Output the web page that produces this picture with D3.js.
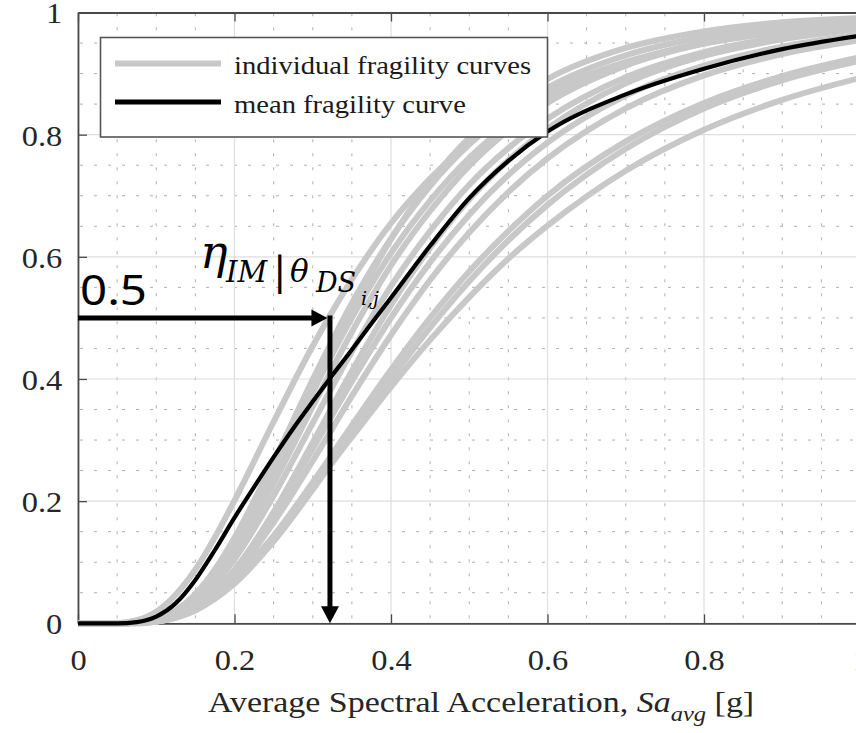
<!DOCTYPE html>
<html>
<head>
<meta charset="utf-8">
<script src="https://cdn.jsdelivr.net/npm/d3@7"></script>
<style>
body { margin: 0; background: #fff; }
svg { display: block; }
text { white-space: pre; }
</style>
</head>
<body>
<svg width="856" height="733"></svg>
<script>
// ticks
var xTicks = [0, 0.2, 0.4, 0.6, 0.8, 1];
var yTicks = [0, 0.2, 0.4, 0.6, 0.8, 1];
var xTickLabels = ["0", "0.2", "0.4", "0.6", "0.8", "1"];
var yTickLabels = ["0", "0.2", "0.4", "0.6", "0.8", "1"];

// x positions where the individual curves were read
var gridX = [0, 0.05, 0.075, 0.1, 0.125, 0.15, 0.175, 0.2, 0.25, 0.3, 0.35, 0.4, 0.45, 0.5, 0.55, 0.6, 0.7, 0.8, 0.9, 1.0];

// individual fragility curves (probability at gridX)
var individualCurves = [
	[0, 0, 0.005, 0.019, 0.047, 0.088, 0.141, 0.201, 0.330, 0.454, 0.563, 0.655, 0.728, 0.787, 0.833, 0.869, 0.919, 0.949, 0.968, 0.979],
	[0, 0, 0.000, 0.003, 0.012, 0.032, 0.066, 0.113, 0.237, 0.378, 0.512, 0.629, 0.722, 0.795, 0.850, 0.891, 0.942, 0.969, 0.984, 0.991],
	[0, 0, 0.001, 0.006, 0.021, 0.048, 0.088, 0.140, 0.265, 0.399, 0.524, 0.630, 0.716, 0.784, 0.837, 0.877, 0.930, 0.960, 0.977, 0.986],
	[0, 0, 0.001, 0.006, 0.020, 0.045, 0.083, 0.132, 0.251, 0.379, 0.500, 0.606, 0.692, 0.762, 0.817, 0.860, 0.917, 0.951, 0.971, 0.982],
	[0, 0, 0.001, 0.005, 0.016, 0.037, 0.071, 0.116, 0.229, 0.355, 0.477, 0.586, 0.675, 0.749, 0.807, 0.852, 0.913, 0.949, 0.969, 0.982],
	[0, 0, 0.001, 0.004, 0.014, 0.034, 0.064, 0.105, 0.209, 0.328, 0.445, 0.552, 0.642, 0.718, 0.778, 0.826, 0.894, 0.935, 0.960, 0.975],
	[0, 0, 0.000, 0.003, 0.010, 0.026, 0.051, 0.087, 0.182, 0.296, 0.413, 0.521, 0.615, 0.694, 0.758, 0.810, 0.884, 0.929, 0.956, 0.973],
	[0, 0, 0.001, 0.003, 0.011, 0.027, 0.053, 0.087, 0.178, 0.286, 0.396, 0.500, 0.591, 0.669, 0.734, 0.787, 0.864, 0.913, 0.944, 0.964],
	[0, 0, 0.001, 0.003, 0.011, 0.025, 0.049, 0.080, 0.165, 0.266, 0.372, 0.472, 0.562, 0.640, 0.706, 0.761, 0.843, 0.897, 0.932, 0.955],
	[0, 0, 0.001, 0.003, 0.010, 0.023, 0.043, 0.070, 0.143, 0.231, 0.324, 0.415, 0.500, 0.576, 0.642, 0.700, 0.789, 0.852, 0.896, 0.927],
	[0, 0, 0.001, 0.003, 0.009, 0.021, 0.040, 0.065, 0.134, 0.219, 0.310, 0.400, 0.484, 0.560, 0.627, 0.685, 0.777, 0.843, 0.889, 0.921],
	[0, 0, 0.001, 0.005, 0.013, 0.027, 0.048, 0.075, 0.142, 0.222, 0.305, 0.387, 0.464, 0.534, 0.597, 0.651, 0.741, 0.808, 0.857, 0.893]
];

// mean fragility curve
var meanX = [0, 0.05, 0.075, 0.1, 0.125, 0.15, 0.175, 0.2, 0.225, 0.25, 0.275, 0.3, 0.325, 0.35, 0.375, 0.4, 0.45, 0.5, 0.55, 0.6, 0.7, 0.8, 0.9, 1.0];
var meanY = [0, 0, 0.002, 0.011, 0.033, 0.071, 0.120, 0.173, 0.223, 0.272, 0.319, 0.363, 0.406, 0.448, 0.491, 0.533, 0.618, 0.696, 0.757, 0.805, 0.866, 0.908, 0.940, 0.962];

// median marker
var medianIM = 0.322;
var medianP = 0.5;

var legendLabels = ["individual fragility curves", "mean fragility curve"];

var svg = d3.select("svg");
var x = d3.scaleLinear().domain([0, 1]).range([78, 860.5]);
var y = d3.scaleLinear().domain([0, 1]).range([623.3, 12.5]);

var serif = "'Liberation Serif', 'Times New Roman', serif";
var minorX = d3.range(0, 1.0001, 0.05).filter(d => Math.abs(d * 5 - Math.round(d * 5)) > 1e-6);
var minorY = minorX;

// grid
var grid = svg.append("g");
grid.selectAll(".mx").data(minorX).enter().append("line")
	.attr("x1", d => x(d)).attr("x2", d => x(d))
	.attr("y1", y(0)).attr("y2", y(1))
	.attr("stroke", "#b0b0b0").attr("stroke-width", 1)
	.attr("stroke-dasharray", "3,11").attr("stroke-dashoffset", -5);
grid.selectAll(".my").data(minorY).enter().append("line")
	.attr("x1", x(0)).attr("x2", x(1))
	.attr("y1", d => y(d)).attr("y2", d => y(d))
	.attr("stroke", "#b0b0b0").attr("stroke-width", 1)
	.attr("stroke-dasharray", "3,11").attr("stroke-dashoffset", -2);
grid.selectAll(".gx").data(xTicks).enter().append("line")
	.attr("x1", d => x(d)).attr("x2", d => x(d))
	.attr("y1", y(0)).attr("y2", y(1))
	.attr("stroke", "#dedede").attr("stroke-width", 1.2);
grid.selectAll(".gy").data(yTicks).enter().append("line")
	.attr("x1", x(0)).attr("x2", x(1))
	.attr("y1", d => y(d)).attr("y2", d => y(d))
	.attr("stroke", "#dedede").attr("stroke-width", 1.2);

// axes
var xAxis = svg.append("g").attr("transform", "translate(0," + y(0) + ")")
	.call(d3.axisBottom(x).tickValues(xTicks).tickFormat((d, i) => xTickLabels[i])
		.tickSize(-9).tickSizeOuter(0).tickPadding(26));
var xTop = svg.append("g").attr("transform", "translate(0," + y(1) + ")")
	.call(d3.axisTop(x).tickValues(xTicks).tickFormat("").tickSize(-9).tickSizeOuter(0));
var yAxis = svg.append("g").attr("transform", "translate(" + x(0) + ",0)")
	.call(d3.axisLeft(y).tickValues(yTicks).tickFormat((d, i) => yTickLabels[i])
		.tickSize(-9).tickSizeOuter(0).tickPadding(14));

[xAxis, xTop, yAxis].forEach(function (g) {
	g.select(".domain").attr("stroke", "#4a4a4a").attr("stroke-width", 1.8);
	g.selectAll(".tick line").attr("stroke", "#4a4a4a").attr("stroke-width", 1.3);
	g.selectAll(".tick text")
		.attr("font-family", serif)
		.attr("font-size", 29).attr("fill", "#262626")
		.attr("transform", "scale(1.12,1)");
});
yAxis.selectAll(".tick text").attr("dy", "0.36em");

// curves
var indivLine = d3.line()
	.x((d, i) => x(gridX[i]))
	.y(d => y(d))
	.curve(d3.curveMonotoneX);

svg.append("g").selectAll("path").data(individualCurves).enter().append("path")
	.attr("d", indivLine)
	.attr("fill", "none").attr("stroke", "#c8c8c8").attr("stroke-width", 6);

var meanLine = d3.line()
	.x(d => x(d[0]))
	.y(d => y(d[1]))
	.curve(d3.curveMonotoneX);

svg.append("path")
	.datum(meanX.map((d, i) => [d, meanY[i]]))
	.attr("d", meanLine)
	.attr("fill", "none").attr("stroke", "#000").attr("stroke-width", 4.2);

// median arrows
var ax = x(medianIM), ay = y(medianP), lw = 5;
svg.append("line")
	.attr("x1", x(0)).attr("x2", ax - lw / 2 - 14)
	.attr("y1", ay).attr("y2", ay)
	.attr("stroke", "#000").attr("stroke-width", lw);
svg.append("path")
	.attr("d", "M" + (ax - lw / 2) + "," + ay + "L" + (ax - lw / 2 - 16) + "," + (ay - 8.5) + "L" + (ax - lw / 2 - 16) + "," + (ay + 8.5) + "Z")
	.attr("fill", "#000");
svg.append("line")
	.attr("x1", ax).attr("x2", ax)
	.attr("y1", ay - lw / 2).attr("y2", y(0) - 14)
	.attr("stroke", "#000").attr("stroke-width", lw);
svg.append("path")
	.attr("d", "M" + ax + "," + y(0) + "L" + (ax - 9) + "," + (y(0) - 17) + "L" + (ax + 9) + "," + (y(0) - 17) + "Z")
	.attr("fill", "#000");

// annotation texts
svg.append("text")
	.attr("x", x(0) + 2).attr("y", ay - 13)
	.attr("font-family", "'Noto Sans', 'Open Sans', sans-serif").attr("font-size", 42)
	.attr("textLength", 67).attr("lengthAdjust", "spacingAndGlyphs")
	.text("0.5");

var eta = svg.append("g").attr("font-family", "'DejaVu Serif', serif").attr("font-style", "italic").attr("fill", "#000");
eta.append("text").attr("x", ax - 130).attr("y", ay - 50).attr("font-size", 46).text("η");
eta.append("text").attr("x", ax - 104).attr("y", ay - 36).attr("font-size", 29).text("IM");
eta.append("text").attr("x", ax - 57).attr("y", ay - 33).attr("font-size", 40).attr("font-style", "normal").text("|");
eta.append("text").attr("x", ax - 40).attr("y", ay - 36).attr("font-size", 31).text("θ");
eta.append("text").attr("x", ax - 14).attr("y", ay - 26).attr("font-size", 27).text("DS");
eta.append("text").attr("x", ax + 31).attr("y", ay - 13).attr("font-size", 19).text("i,j");

// x label
var xl = svg.append("text")
	.attr("transform", "translate(208,712) scale(1.17,1)")
	.attr("font-family", serif)
	.attr("font-size", 29).attr("fill", "#262626");
xl.append("tspan").text("Average Spectral Acceleration, ");
xl.append("tspan").attr("font-style", "italic").text("Sa");
xl.append("tspan").attr("font-style", "italic").attr("font-size", 21).attr("dy", 9).text("avg");
xl.append("tspan").attr("dy", -9).text(" [g]");

// legend
var leg = svg.append("g");
leg.append("rect")
	.attr("x", 100.5).attr("y", 37.5).attr("width", 447).attr("height", 99.5)
	.attr("fill", "#fff").attr("stroke", "#555").attr("stroke-width", 1.6);
var legStyles = [{ c: "#c8c8c8", w: 6 }, { c: "#000", w: 5 }];
legendLabels.forEach(function (lab, i) {
	var ly = 63.5 + i * 38.5;
	leg.append("line")
		.attr("x1", 115).attr("x2", 221).attr("y1", ly).attr("y2", ly)
		.attr("stroke", legStyles[i].c).attr("stroke-width", legStyles[i].w);
	leg.append("text")
		.attr("transform", "translate(234," + (ly + 10.5) + ") scale(1.1,1)")
		.attr("font-family", serif)
		.attr("font-size", 26).attr("fill", "#1a1a1a")
		.text(lab);
});
</script>
</body>
</html>
